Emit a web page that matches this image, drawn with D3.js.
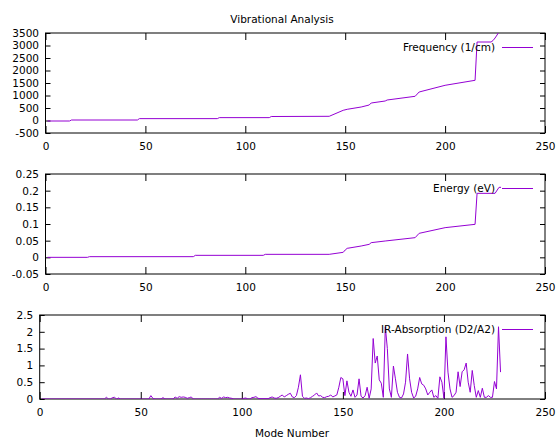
<!DOCTYPE html>
<html>
<head>
<meta charset="utf-8">
<script src="https://cdn.jsdelivr.net/npm/d3@7"></script>
<style>
  body { margin: 0; background: #fff; }
  svg { display: block; font-family: "DejaVu Sans", sans-serif; }
</style>
</head>
<body>
<svg id="chart" width="558" height="439"></svg>
<script>
// mode axis
const modeTicks = [0, 50, 100, 150, 200, 250];

// frequency (1/cm), sorted modes
const freqModes  = [1, 12, 13, 46, 47, 86, 87, 112, 113, 142, 149, 151, 158, 162, 163, 170, 171, 185, 187, 200, 215, 216, 223, 224, 225, 226, 227, 228];
const freqValues = [-20, -20, 20, 20, 75, 75, 115, 115, 160, 168, 408, 448, 540, 620, 700, 780, 820, 968, 1140, 1408, 1608, 3140, 3140, 3200, 3300, 3420, 3550, 3700];
const freqTicks  = [-500, 0, 500, 1000, 1500, 2000, 2500, 3000, 3500];

// energy (eV)
const energyModes  = [1, 21, 22, 74, 75, 109, 110, 142, 149, 150, 151, 158, 162, 163, 170, 185, 187, 200, 215, 216, 225, 227, 228];
const energyValues = [0, 0, 0.002, 0.002, 0.006, 0.006, 0.009, 0.009, 0.015, 0.022, 0.027, 0.034, 0.039, 0.044, 0.049, 0.059, 0.072, 0.089, 0.099, 0.192, 0.192, 0.21, 0.21];
const energyTicks  = [-0.05, 0, 0.05, 0.1, 0.15, 0.2, 0.25];

// IR absorption (D2/A2), one value per mode 1..228
const irValues = [
  0, 0, 0, 0, 0, 0, 0, 0, 0, 0,
  0, 0, 0, 0, 0, 0, 0, 0, 0, 0,
  0, 0, 0, 0, 0, 0, 0, 0, 0, 0,
  0, 0, 0.05, 0, 0, 0.04, 0.05, 0, 0.03, 0,
  0, 0, 0, 0, 0, 0, 0, 0, 0, 0,
  0, 0, 0, 0, 0.1, 0.02, 0, 0, 0, 0,
  0.04, 0, 0, 0, 0, 0, 0.06, 0.02, 0.07, 0.05,
  0.06, 0.05, 0.02, 0.04, 0.06, 0, 0, 0, 0, 0,
  0, 0, 0, 0, 0, 0, 0, 0, 0.05, 0.02,
  0.06, 0.04, 0.05, 0.03, 0.02, 0, 0, 0, 0, 0,
  0.02, 0.03, 0, 0, 0.04, 0.05, 0.07, 0.02, 0.01, 0.01,
  0.01, 0.01, 0.01, 0.04, 0.06, 0.03, 0.02, 0.04, 0.08, 0.12,
  0.06, 0.1, 0.14, 0.17, 0.06, 0.04, 0.1, 0.35, 0.72, 0.08,
  0.02, 0.03, 0.01, 0.04, 0.08, 0.12, 0.18, 0.09, 0.1, 0.05,
  0.04, 0.07, 0.08, 0.12, 0.06, 0.09, 0.12, 0.35, 0.64, 0.6,
  0.1, 0.54, 0.2, 0.08, 0.27, 0.05, 0.12, 0.6, 0.08, 0.03,
  0.1, 0.35, 0.02, 0.3, 1.8, 1.07, 1.28, 0.57, 0.47, 0.05,
  2.15, 1.5, 0.3, 0.05, 0.98, 0.6, 0.2, 0.05, 0.03, 0.15,
  0.5, 1.34, 0.6, 0.2, 0.03, 0.08, 0.3, 0.64, 0.45, 0.41,
  0.3, 0.12, 0.2, 0.27, 0.05, 0.1, 0.02, 0.66, 0.5, 0.02,
  1.85, 0.8, 0.3, 0.05, 0.1, 0.2, 0.81, 0.37, 0.81, 0.87,
  1.07, 0.5, 0.2, 0.85, 0.4, 0.05, 0.25, 0.05, 0.32, 0.05,
  0.05, 0.1, 0.05, 0.05, 0.52, 0.3, 2.15, 0.8
];
const irTicks = [0, 0.5, 1, 1.5, 2, 2.5];

const svg = d3.select('#chart');
const lineColor = '#9400d3';

const panels = [
  { id: 'freq', left: 45.5, right: 545, top: 33, bottom: 133, yDomain: [-500, 3500],
    yTicks: freqTicks, modes: freqModes, values: freqValues, label: 'Frequency (1/cm)' },
  { id: 'energy', left: 45.5, right: 545, top: 174, bottom: 274, yDomain: [-0.05, 0.25],
    yTicks: energyTicks, modes: energyModes, values: energyValues, label: 'Energy (eV)' },
  { id: 'ir', left: 39.7, right: 545, top: 315, bottom: 399, yDomain: [0, 2.5],
    yTicks: irTicks, modes: irValues.map((v, i) => i + 1), values: irValues, label: 'IR-Absorption (D2/A2)' }
];

panels.forEach(p => {
  const x = d3.scaleLinear().domain([0, 250]).range([p.left, p.right]);
  const y = d3.scaleLinear().domain(p.yDomain).range([p.bottom, p.top]);
  const g = svg.append('g');

  svg.append('clipPath').attr('id', 'clip-' + p.id)
    .append('rect')
    .attr('x', p.left).attr('y', p.top)
    .attr('width', p.right - p.left).attr('height', p.bottom - p.top);

  // axes: ticks point inward, mirrored on top/right
  g.append('g')
    .attr('transform', `translate(0,${p.bottom})`)
    .call(d3.axisBottom(x).tickValues(modeTicks).tickSize(-7).tickPadding(10).tickFormat(d => String(d)));
  g.append('g')
    .attr('transform', `translate(0,${p.top})`)
    .call(d3.axisTop(x).tickValues(modeTicks).tickSize(-7).tickFormat(''));
  g.append('g')
    .attr('transform', `translate(${p.left},0)`)
    .call(d3.axisLeft(y).tickValues(p.yTicks).tickSize(-5).tickPadding(6.5).tickFormat(d => String(d)));
  g.append('g')
    .attr('transform', `translate(${p.right},0)`)
    .call(d3.axisRight(y).tickValues(p.yTicks).tickSize(-5).tickFormat(''));

  g.selectAll('.domain').remove();
  g.selectAll('.tick line').attr('stroke', '#000');
  g.selectAll('.tick text').attr('fill', '#000').style('font-size', '10.5px')
    .style('font-family', '"DejaVu Sans", sans-serif');

  // frame
  g.append('rect')
    .attr('x', p.left).attr('y', p.top)
    .attr('width', p.right - p.left).attr('height', p.bottom - p.top)
    .attr('fill', 'none').attr('stroke', '#000').attr('stroke-width', 1);

  // data line
  const pts = p.modes.map((m, i) => [m, p.values[i]]);
  g.append('path')
    .datum(pts)
    .attr('clip-path', `url(#clip-${p.id})`)
    .attr('fill', 'none')
    .attr('stroke', lineColor)
    .attr('stroke-width', 1)
    .attr('d', d3.line().x(d => x(d[0])).y(d => y(d[1])));

  // key
  const ky = p.top + 14.5;
  g.append('text')
    .attr('x', 495).attr('y', ky).attr('dy', '0.35em')
    .attr('text-anchor', 'end')
    .style('font-size', '10.5px')
    .text(p.label);
  g.append('line')
    .attr('x1', 502).attr('x2', 533).attr('y1', ky).attr('y2', ky)
    .attr('stroke', lineColor).attr('stroke-width', 1);
});

svg.append('text')
  .attr('x', 282).attr('y', 22.5)
  .attr('text-anchor', 'middle')
  .style('font-size', '10.5px')
  .text('Vibrational Analysis');

svg.append('text')
  .attr('x', 292).attr('y', 437)
  .attr('text-anchor', 'middle')
  .style('font-size', '10.5px')
  .text('Mode Number');
</script>
</body>
</html>
